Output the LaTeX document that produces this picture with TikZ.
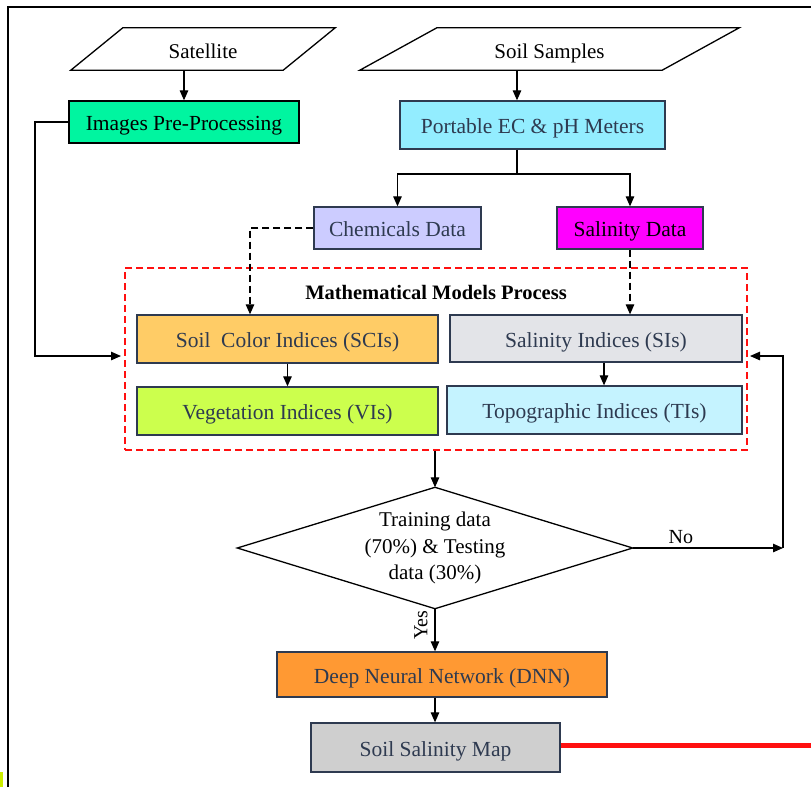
\documentclass[tikz,border=0pt]{standalone}
\usepackage{fontspec}
\setmainfont{Liberation Serif}
\usetikzlibrary{arrows.meta,shapes.geometric,calc}
\definecolor{navy}{HTML}{2E3A50}
\definecolor{imgc}{HTML}{00F5A0}
\definecolor{pecc}{HTML}{93EDFF}
\definecolor{chemc}{HTML}{CCCCFF}
\definecolor{saldc}{HTML}{FF00FF}
\definecolor{scic}{HTML}{FFCC66}
\definecolor{sic}{HTML}{E3E4E8}
\definecolor{vic}{HTML}{CCFF4D}
\definecolor{tic}{HTML}{C5F3FF}
\definecolor{dnnc}{HTML}{FF9933}
\definecolor{mapc}{HTML}{CFCFCF}
\definecolor{redline}{HTML}{FF1010}
\definecolor{cornermark}{HTML}{CCEE00}
\begin{document}
\begin{tikzpicture}[x=1pt,y=-1pt,
  box/.style={draw=navy,line width=1.3pt,inner sep=0pt,font=\fontsize{21.5}{24}\selectfont,text=navy,text height=21pt,text depth=4pt},
  blackbox/.style={box,draw=black,text=black},
  para/.style={inner sep=0pt,font=\fontsize{21}{24}\selectfont,text height=22pt,text depth=3pt},
  lbl/.style={font=\fontsize{20}{24}\selectfont},
  arr/.style={-{Triangle[length=10pt,width=8.5pt]},line width=1.2pt},
  plain/.style={line width=1.2pt},
]
\useasboundingbox (0,0) rectangle (811,787);
% frame
\draw[line width=1.2pt] (8,787) -- (8,7) -- (811,7);
\fill[cornermark] (0,772) rectangle (2.5,787);

% input parallelograms
\node[para,minimum width=264pt,minimum height=42pt] (sat) at (203,49) {Satellite};
\draw[line width=1.3pt] (sat.south west) -- ($(sat.north west)+(52,0)$) -- (sat.north east) -- ($(sat.south east)+(-52,0)$) -- cycle;
\node[para,minimum width=379pt,minimum height=42pt] (soil) at (549.5,49) {Soil Samples};
\draw[line width=1.3pt] (soil.south west) -- ($(soil.north west)+(77,0)$) -- (soil.north east) -- ($(soil.south east)+(-77,0)$) -- cycle;

% boxes
\node[blackbox,fill=imgc,minimum width=230pt,minimum height=42pt] (img) at (184,122) {Images Pre-Processing};
\node[box,fill=pecc,minimum width=265pt,minimum height=48pt] (pec) at (532.5,125) {Portable EC \& pH Meters};
\node[box,fill=chemc,minimum width=167pt,minimum height=42pt] (chem) at (397.5,228) {Chemicals Data};
\node[blackbox,draw=navy,fill=saldc,minimum width=146pt,minimum height=42pt] (sald) at (630,228) {Salinity Data};

\node[draw=redline,line width=1.3pt,dash pattern=on 7pt off 4pt,minimum width=622pt,minimum height=182pt,inner sep=0pt] (mm) at (436,359) {};
\node[font=\fontsize{20.5}{22}\selectfont\bfseries] (title) at (436,292) {Mathematical Models Process};

\node[box,fill=scic,minimum width=301pt,minimum height=48pt] (sci) at (287.5,339) {Soil~ Color Indices (SCIs)};
\node[box,fill=sic,minimum width=292pt,minimum height=47pt] (si) at (596,338.5) {Salinity Indices (SIs)};
\node[box,fill=vic,minimum width=301pt,minimum height=48pt] (vi) at (287.5,411) {Vegetation Indices (VIs)};
\node[box,fill=tic,minimum width=295pt,minimum height=48pt] (ti) at (594.5,410) {Topographic Indices (TIs)};

\node[inner sep=0pt,minimum width=395pt,minimum height=121pt,align=center,font=\fontsize{21}{26.5}\selectfont] (dia) at (435,548) {Training data\\(70\%) \& Testing\\data (30\%)};
\draw[line width=1.3pt] (dia.north) -- (dia.east) -- (dia.south) -- (dia.west) -- cycle;

\node[box,fill=dnnc,minimum width=330pt,minimum height=45pt] (dnn) at (442,674.5) {Deep Neural Network (DNN)};
\node[box,fill=mapc,minimum width=249pt,minimum height=49pt] (map) at (435.5,747.5) {Soil Salinity Map};

% connectors
\draw[arr] (img.north |- sat.south) -- (img.north);
\draw[arr] ([xshift=-15.5pt]pec.north |- soil.south) -- ([xshift=-15.5pt]pec.north);
\coordinate (split) at (517,174);
\draw[plain] ([xshift=-15.5pt]pec.south) -- (split);
\draw[arr] (split) -| (chem.north);
\draw[arr] (split) -| (sald.north);
\draw[arr,dash pattern=on 7pt off 4pt] (chem.west) -| ([xshift=-37.5pt]sci.north);
\draw[arr,dash pattern=on 7pt off 4pt] (sald.south) -- (sald.south |- si.north);
\draw[arr] (sci.south) -- (vi.north);
\draw[arr] ([xshift=8pt]si.south) -- ([xshift=8pt]si.south |- ti.north);

\coordinate (ml) at (35,356);
\coordinate (mlend) at (121,356);
\draw[arr] (img.west) -| (ml) -- (mlend);

\draw[arr] (mm.south -| dia.north) -- (dia.north);

\coordinate (noend) at (783,548);
\coordinate (retend) at (750,356);
\draw[arr] (dia.east) -- node[above,lbl,pos=0.32] (no) {No} (noend);
\draw[arr] (noend) |- (retend);

\draw[arr] (dia.south) -- (dia.south |- dnn.north);
\node[rotate=90,lbl] (yes) at (421,625) {Yes};
\draw[arr] (dia.south |- dnn.south) -- (dia.south |- map.north);

\coordinate (redend) at (811,745);
\draw[redline,line width=5pt] (map.east |- redend) -- (redend);
\end{tikzpicture}
\end{document}
